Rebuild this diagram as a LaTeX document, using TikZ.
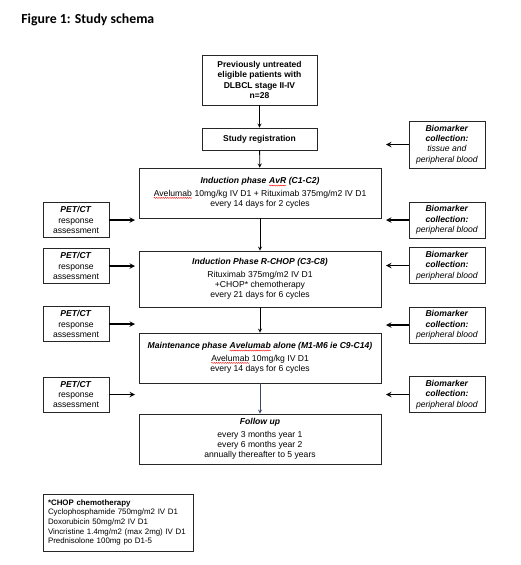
\documentclass[tikz,border=0pt]{standalone}
\usepackage{fontspec}
\setmainfont{Liberation Sans}
\newfontfamily\titlefont{Carlito}
\usetikzlibrary{
    arrows,
    calc,
    decorations.pathmorphing
}
\definecolor{slatearrow}{RGB}{62,72,98}
% red spell-check wave under a word
\newcommand\spellwave[1]{\tikz[baseline=(w.base)]{%
    \node[draw=none,inner sep=0pt,outer sep=0pt,minimum width=0pt,minimum height=0pt] (w) {#1};
    \draw[red,line width=0.4pt,decorate,decoration={snake,amplitude=0.5pt,segment length=2.2pt}]
        ([yshift=-1.7pt]w.base west) -- ([yshift=-1.7pt]w.base east);}}
\tikzset{
  every path/.style={
    black,
    line width=0.8pt
  },
  box/.style={
    draw=black!85,
    line width=0.8pt,
    align=center,
    inner sep=2pt,
    font=\fontsize{8.6}{10.4}\selectfont
  },
  sidebox/.style={
    box,
    minimum width=66pt
  },
  biobox/.style={
    box,
    minimum width=76pt
  },
  flowarrow/.style={
    ->,
    line width=0.8pt
  },
  sidearrow/.style={
    ->,
    line width=1.4pt
  }
}

\begin{document}
\begin{tikzpicture}[x=1pt,y=-1pt,>=stealth]
    \useasboundingbox (0,0) rectangle (520,565);

    % title
    \node[anchor=west,inner sep=0pt,font=\titlefont\bfseries\fontsize{13.8}{15}\selectfont] (title) at (21,20) {Figure 1: Study schema};

    % main column
    \node[box,minimum width=115pt,minimum height=50pt,font=\bfseries\fontsize{8.5}{10.4}\selectfont] (top) at (259.5,80)
        {Previously untreated\\eligible patients with\\DLBCL stage II-IV\\n=28};
    \node[box,minimum width=115pt,minimum height=22pt,font=\bfseries\fontsize{8.5}{10.4}\selectfont] (reg) at (259.5,139)
        {Study registration};
    \node[box,minimum width=242pt,minimum height=50pt] (avr) at (260,193)
        {\textbf{\textit{Induction phase \spellwave{AvR} (C1-C2)}}\\[2pt]
         \spellwave{Avelumab} 10mg/kg IV D1 + Rituximab 375mg/m2 IV D1\\every 14 days for 2 cycles};
    \node[box,minimum width=242pt,minimum height=56pt] (rchop) at (260,279)
        {\textbf{\textit{Induction Phase R-CHOP (C3-C8)}}\\[2pt]
         Rituximab 375mg/m2 IV D1\\+CHOP* chemotherapy\\every 21 days for 6 cycles};
    \node[box,minimum width=242pt,minimum height=50pt] (maint) at (260,358)
        {\textbf{\textit{Maintenance phase \spellwave{Avelumab} alone (M1-M6 ie C9-C14)}}\\[2pt]
         \spellwave{Avelumab} 10mg/kg IV D1\\every 14 days for 6 cycles};
    \node[box,minimum width=242pt,minimum height=50pt] (fup) at (260,439)
        {\textbf{\textit{Follow up}}\\[2pt]
         every 3 months year 1\\every 6 months year 2\\annually thereafter to 5 years};

    % arrows down the column
    \draw[flowarrow] (top) -- (reg);
    \draw[flowarrow] (reg) -- (avr);
    \draw[flowarrow] (avr) -- (rchop);
    \draw[flowarrow] (rchop) -- (maint);
    \draw[flowarrow,draw=slatearrow] (maint) -- (fup);

    % biomarker collection
    \node[biobox,minimum height=47pt] (bio1) at (447,144.5)
        {\textbf{\textit{Biomarker}}\\\textbf{\textit{collection:}}\\\textit{tissue and}\\\textit{peripheral blood}};
    \foreach \i/\y in {2/220,3/265.5,4/325,5/394.5}{
        \node[biobox,minimum height=36pt] (bio\i) at (447,\y)
            {\textbf{\textit{Biomarker}}\\\textbf{\textit{collection:}}\\\textit{peripheral blood}};
        \coordinate (bioend\i) at (386,\y);
        \draw[sidearrow] (bio\i) -- (bioend\i);
    }
    \coordinate (bioend1) at (386,144.5);
    \draw[sidearrow] (bio1) -- (bioend1);

    % PET/CT response assessment
    \foreach \i/\y in {1/220,2/266,3/324,4/394.5}{
        \node[sidebox,minimum height=35pt] (pet\i) at (76,\y)
            {\textbf{\textit{PET/CT}}\\response\\assessment};
        \coordinate (petend\i) at (135,\y);
        \draw[sidearrow] (pet\i) -- (petend\i);
    }

    % CHOP footnote
    \node[box,align=left,minimum width=150pt,minimum height=57pt,inner sep=0pt,text width=140pt,
          font=\fontsize{7.9}{9.6}\selectfont] (chop) at (118,522.5)
        {\textbf{*CHOP chemotherapy}\\
         Cyclophosphamide 750mg/m2 IV D1\\
         Doxorubicin 50mg/m2 IV D1\\
         Vincristine 1.4mg/m2 (max 2mg) IV D1\\
         Prednisolone 100mg po D1-5};
\end{tikzpicture}
\end{document}
